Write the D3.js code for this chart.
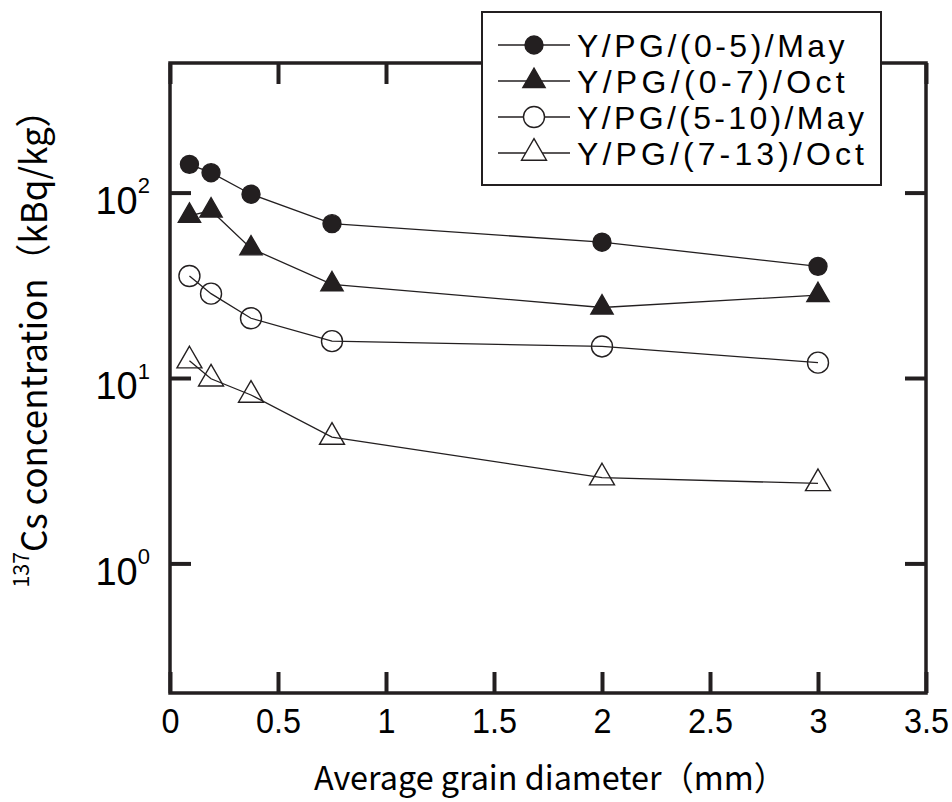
<!DOCTYPE html>
<html>
<head>
<meta charset="utf-8">
<script src="https://cdn.jsdelivr.net/npm/d3@7"></script>
<style>
  body { margin: 0; background: #fff; }
  svg { display: block; font-family: "Noto Sans CJK JP", "Noto Sans", sans-serif; }
</style>
</head>
<body>
<svg id="chart" width="952" height="802"></svg>
<script>
const grainDiameter = [0.09, 0.19, 0.375, 0.75, 2, 3]
const seriesNames = ['Y/PG/(0-5)/May', 'Y/PG/(0-7)/Oct', 'Y/PG/(5-10)/May', 'Y/PG/(7-13)/Oct']
const may0to5 = [142, 128, 98, 68, 54, 40]
const oct0to7 = [75, 80, 50, 32, 24, 28]
const may5to10 = [35.5, 28.5, 21, 15.8, 14.8, 12.1]
const oct7to13 = [12.4, 9.9, 8.1, 4.8, 2.9, 2.7]
const xTicks = [0, 0.5, 1, 1.5, 2, 2.5, 3, 3.5]
const yTicks = [1, 10, 100]

;(function drawChart() {
  const svg = d3.select('#chart')
  const plotLeft = 170, plotRight = 926, plotTop = 63, plotBottom = 693

  const x = d3.scaleLinear().domain([0, 3.5]).range([plotLeft, plotRight])
  const y = d3.scaleLog().domain([0.2, 500]).range([plotBottom, plotTop])

  const series = [
    {name: seriesNames[0], values: may0to5, shape: 'circle', filled: true},
    {name: seriesNames[1], values: oct0to7, shape: 'triangle', filled: true},
    {name: seriesNames[2], values: may5to10, shape: 'circle', filled: false},
    {name: seriesNames[3], values: oct7to13, shape: 'triangle', filled: false}
  ]

  const markerPath = (s) => {
    if (s.shape === 'circle') {
      return d3.symbol().type(d3.symbolCircle).size(s.filled ? Math.PI * 9 * 9 : Math.PI * 10.5 * 10.5)()
    }
    return d3.symbol().type(d3.symbolTriangle).size(s.filled ? 215 : 270)()
  }

  // axes, ticks pointing inward
  const styleTicks = (g) => {
    g.select('.domain').remove()
    g.selectAll('.tick line').attr('stroke', '#231f20').attr('stroke-width', 4)
  }

  svg.append('g')
    .attr('transform', `translate(0,${plotBottom})`)
    .call(d3.axisBottom(x).tickValues(xTicks).tickSize(-21).tickPadding(14).tickFormat(d3.format('')))
    .call(styleTicks)
    .call(g => g.selectAll('.tick text').attr('font-size', 36).attr('fill', '#000')
      .attr('transform', 'scale(0.9,1)'))

  svg.append('g')
    .attr('transform', `translate(0,${plotTop})`)
    .call(d3.axisTop(x).tickValues(xTicks).tickSize(-21).tickFormat(''))
    .call(styleTicks)

  svg.append('g')
    .attr('transform', `translate(${plotLeft},0)`)
    .call(d3.axisLeft(y).tickValues(yTicks).tickSize(-21).tickPadding(20).tickFormat(''))
    .call(styleTicks)
    .call(g => {
      const t = g.selectAll('.tick text').attr('font-size', 38).attr('fill', '#000').attr('dy', '0.55em')
      t.append('tspan').text('10')
      t.append('tspan').attr('font-size', 22).attr('dy', '-0.95em').text(d => Math.round(Math.log10(d)))
    })

  svg.append('g')
    .attr('transform', `translate(${plotRight},0)`)
    .call(d3.axisRight(y).tickValues(yTicks).tickSize(-21).tickFormat(''))
    .call(styleTicks)

  svg.append('rect')
    .attr('x', plotLeft).attr('y', plotTop)
    .attr('width', plotRight - plotLeft).attr('height', plotBottom - plotTop)
    .attr('fill', 'none').attr('stroke', '#231f20').attr('stroke-width', 3.5)

  // series lines and markers
  const line = d3.line().x((d, i) => x(grainDiameter[i])).y(d => y(d))

  series.forEach(s => {
    svg.append('path')
      .attr('d', line(s.values))
      .attr('fill', 'none').attr('stroke', '#231f20').attr('stroke-width', 1.3)

    svg.selectAll(null)
      .data(s.values)
      .enter()
      .append('path')
      .attr('d', markerPath(s))
      .attr('transform', (d, i) => `translate(${x(grainDiameter[i])},${y(d)})`)
      .attr('fill', s.filled ? '#231f20' : 'none')
      .attr('stroke', '#231f20')
      .attr('stroke-width', 1.4)
  })

  // axis titles
  svg.append('text')
    .attr('transform', 'translate(550,790) scale(0.98,1)')
    .attr('text-anchor', 'middle').attr('font-size', 33)
    .text('Average grain diameter（mm）')

  const yTitle = svg.append('text')
    .attr('transform', 'translate(40,340) rotate(-90) scale(0.97,1)')
    .attr('text-anchor', 'middle').attr('font-size', 36)
  yTitle.append('tspan').attr('font-size', 22).attr('dy', '-0.5em').text('137')
  yTitle.append('tspan').attr('dy', '0.5em').text('Cs concentration（kBq/kg）')

  // legend
  const legend = svg.append('g')
  legend.append('rect')
    .attr('x', 482).attr('y', 12).attr('width', 399).attr('height', 173)
    .attr('fill', '#fff').attr('stroke', '#231f20').attr('stroke-width', 2)

  series.forEach((s, i) => {
    const ly = 45 + i * 36
    legend.append('line')
      .attr('x1', 498).attr('x2', 570).attr('y1', ly).attr('y2', ly)
      .attr('stroke', '#231f20').attr('stroke-width', 1.3)
    legend.append('path')
      .attr('d', markerPath(s))
      .attr('transform', `translate(534,${ly})`)
      .attr('fill', s.filled ? '#231f20' : '#fff')
      .attr('stroke', '#231f20').attr('stroke-width', 1.4)
    legend.append('text')
      .attr('x', 577).attr('y', ly).attr('dy', '0.36em')
      .attr('font-family', '"Liberation Sans", Arial, sans-serif')
      .attr('font-size', 32)
      .attr('textLength', s.name.length * 19.4 - 4)
      .attr('lengthAdjust', 'spacing')
      .text(s.name)
  })
})()
</script>
</body>
</html>
